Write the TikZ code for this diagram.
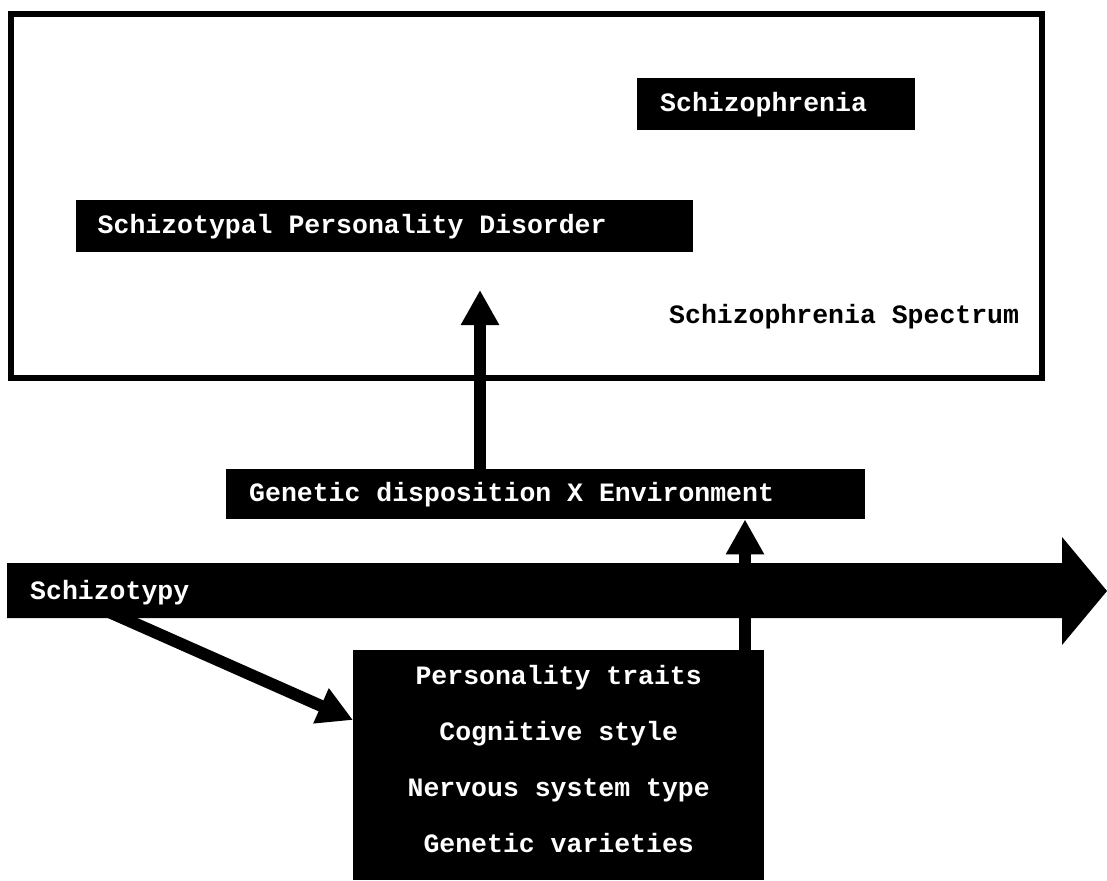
\documentclass[tikz,border=0pt]{standalone}
\usepackage{fontspec}
\setmainfont{Liberation Mono}
\usetikzlibrary{arrows.meta,calc}
\protected\def\monosp{\spaceskip=0.6em\xspaceskip=0.6em\relax}
\begin{document}
\begin{tikzpicture}[x=1pt,y=-1pt,
  lbl/.style={font=\fontsize{26.5}{30}\selectfont\bfseries},
  blackbox/.style={lbl, fill=black, text=white, anchor=north west, align=flush left, inner ysep=0pt, text height=15pt, text depth=0pt},
  bigarrow/.style={line width=12pt, -{Triangle[length=35pt,width=36pt]}},
]
\useasboundingbox (0,0) rectangle (1107,880);
\draw[line width=6pt] (11,14) rectangle (1042,378);
\node[blackbox, minimum height=52pt, inner xsep=23pt, text width=232pt] (schiz) at (637,78) {\monosp Schizophrenia};
\node[blackbox, minimum height=52pt, inner xsep=21.5pt, text width=574pt] (spd) at (76,200) {\monosp Schizotypal Personality Disorder};
\node[blackbox, minimum height=50pt, inner xsep=23pt, text width=593pt] (gen) at (226,469) {\monosp Genetic disposition X Environment};
\node[lbl, anchor=base west, inner sep=0pt] (spec) at (669,323) {Schizophrenia Spectrum};
\fill (7,563) -- (1062,563) -- (1062,537) -- (1107,591) -- (1062,645) -- (1062,618) -- (7,618) -- cycle;
\node[lbl, text=white, anchor=base west, inner sep=0pt] (typy) at (30,599) {Schizotypy};
\node[fill=black, text=white, anchor=north west, align=center, font=\fontsize{26.5}{56}\selectfont\bfseries, minimum width=411pt, minimum height=230pt, inner sep=0pt, text height=183pt, text depth=9pt] (traits) at (353,650) {\monosp Personality traits\\Cognitive style\\Nervous system type\\Genetic varieties};
\coordinate (t1) at (480,290);
\draw[bigarrow] (gen.north -| t1) -- (t1);
\coordinate (t2) at (745,0);
\draw[bigarrow] (traits.north -| t2) -- (gen.south -| t2);
\coordinate (d0) at (100,608);
\coordinate (d1) at (353,720);
\draw[bigarrow] (d0) -- (d1);
\end{tikzpicture}
\end{document}
